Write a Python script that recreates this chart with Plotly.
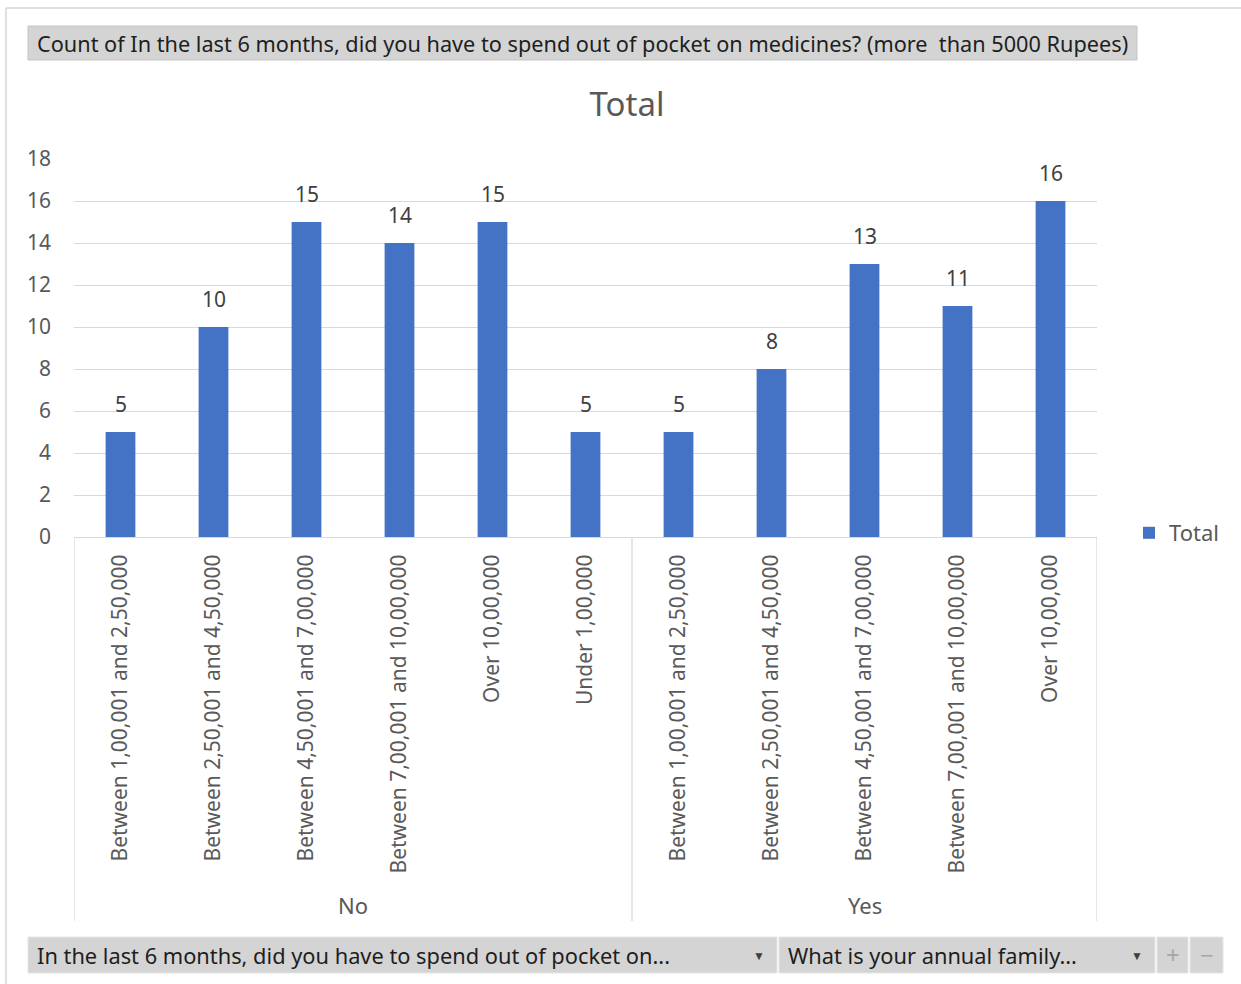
import plotly.graph_objects as go

# Pivot data: annual family income bands grouped by out-of-pocket spend answer
groups = ["No"] * 6 + ["Yes"] * 5
income_bands = [
    "Between 1,00,001 and 2,50,000",
    "Between 2,50,001 and 4,50,000",
    "Between 4,50,001 and 7,00,000",
    "Between 7,00,001 and 10,00,000",
    "Over 10,00,000",
    "Under 1,00,000",
    "Between 1,00,001 and 2,50,000",
    "Between 2,50,001 and 4,50,000",
    "Between 4,50,001 and 7,00,000",
    "Between 7,00,001 and 10,00,000",
    "Over 10,00,000",
]
counts = [5, 10, 15, 14, 15, 5, 5, 8, 13, 11, 16]
y_ticks = list(range(0, 19, 2))
header_text = ("Count of In the last 6 months, did you have to spend out of pocket "
               "on medicines? (more  than 5000 Rupees)")
filter_texts = ["In the last 6 months, did you have to spend out of pocket on...",
                "What is your annual family..."]

W, H = 1241, 984
FONT = "Noto Sans"
GREY_TXT = "#595959"
BAR = "#4472C4"
GRID = "#d9d9d9"


def px(x):
    return x / W


def py(y):
    return 1 - y / H


x_pos = list(range(len(counts)))

fig = go.Figure()
fig.add_trace(go.Bar(
    x=x_pos, y=counts, name="Total", marker=dict(color=BAR, line=dict(width=0)),
    width=0.32, showlegend=True,
))

# data labels above bars
annotations = []
for xi, v in zip(x_pos, counts):
    annotations.append(dict(
        x=xi, y=v, xref="x", yref="y", text=str(v), showarrow=False,
        yanchor="middle", yshift=28, font=dict(family=FONT, size=21, color="#404040"),
    ))

# group labels below the category labels
group_names = []
for g in groups:
    if g not in group_names:
        group_names.append(g)
group_edges = [-0.5]
for g in group_names:
    idx = [i for i, gg in enumerate(groups) if gg == g]
    annotations.append(dict(
        x=(idx[0] + idx[-1]) / 2, y=py(905), xref="x", yref="paper", text=g,
        showarrow=False, yanchor="middle", font=dict(family=FONT, size=22, color=GREY_TXT),
    ))
    group_edges.append(idx[-1] + 0.5)

shapes = []
for e in group_edges:
    shapes.append(dict(type="line", xref="x", yref="paper", x0=e, x1=e,
                       y0=py(537), y1=py(921), line=dict(color=GRID, width=1.3)))

# outer chart frame (top and left edges)
shapes.append(dict(type="line", xref="paper", yref="paper", x0=px(6), x1=1,
                   y0=py(8), y1=py(8), line=dict(color="#d6d6d6", width=1.5)))
shapes.append(dict(type="line", xref="paper", yref="paper", x0=px(6), x1=px(6),
                   y0=py(8), y1=0, line=dict(color="#d6d6d6", width=1.5)))

# header field button
shapes.append(dict(type="rect", xref="paper", yref="paper", x0=px(28), x1=px(1137),
                   y0=py(60), y1=py(26), fillcolor="#d4d4d4",
                   line=dict(color="#c4c4c4", width=1), layer="below"))
annotations.append(dict(
    x=px(35), y=py(43), xref="paper", yref="paper", text=header_text, showarrow=False,
    xanchor="left", yanchor="middle", font=dict(family=FONT, size=21.7, color="#1e1e1e"),
))

# bottom filter buttons
buttons = [(28, 777), (779, 1155), (1157, 1188), (1190, 1223)]
for x0, x1 in buttons:
    shapes.append(dict(type="rect", xref="paper", yref="paper", x0=px(x0), x1=px(x1),
                       y0=py(973), y1=py(937), fillcolor="#d4d4d4",
                       line=dict(color="#e6e6e6", width=1), layer="below"))
for (x0, x1), t in zip(buttons[:2], filter_texts):
    annotations.append(dict(
        x=px(x0 + 7), y=py(955), xref="paper", yref="paper", text=t, showarrow=False,
        xanchor="left", yanchor="middle", font=dict(family=FONT, size=21.8, color="#1e1e1e"),
    ))
    annotations.append(dict(
        x=px(x1 - 18), y=py(955), xref="paper", yref="paper", text="▼", showarrow=False,
        xanchor="center", yanchor="middle", font=dict(family=FONT, size=12, color="#404040"),
    ))
for (x0, x1), t in zip(buttons[2:], ["+", "−"]):
    annotations.append(dict(
        x=px((x0 + x1) / 2), y=py(954), xref="paper", yref="paper", text=t,
        showarrow=False, xanchor="center", yanchor="middle",
        font=dict(family=FONT, size=24, color="#a6a6a6"),
    ))

fig.update_layout(
    width=W, height=H, autosize=False,
    margin=dict(l=0, r=0, t=0, b=0, pad=0, autoexpand=False),
    paper_bgcolor="white", plot_bgcolor="white",
    title=dict(text="Total", x=px(627), xanchor="center", y=py(104), yanchor="middle",
               automargin=False,
               font=dict(family=FONT, size=33, color=GREY_TXT)),
    xaxis=dict(
        domain=[px(74), px(1097)], range=[-0.5, 10.5], automargin=False,
        tickmode="array", tickvals=x_pos, ticktext=income_bands, tickangle=-90,
        tickfont=dict(family=FONT, size=21, color=GREY_TXT),
        showgrid=False, zeroline=False, showline=True, linecolor=GRID, linewidth=1.3,
        ticks="", ticklabelstandoff=8,
    ),
    yaxis=dict(
        domain=[py(537), py(159)], range=[0, 18], automargin=False,
        tickmode="array", tickvals=y_ticks,
        tickfont=dict(family=FONT, size=21, color=GREY_TXT),
        showgrid=True, gridcolor=GRID, gridwidth=1.3, zeroline=False, showline=False,
        ticks="", ticklabelstandoff=22,
    ),
    legend=dict(x=px(1129), y=py(533), xanchor="left", yanchor="middle",
                font=dict(family=FONT, size=22, color=GREY_TXT),
                itemwidth=30, bgcolor="rgba(0,0,0,0)"),
    showlegend=True,
    bargap=0.68,
    annotations=annotations,
    shapes=shapes,
)

fig.write_html("out.html")
